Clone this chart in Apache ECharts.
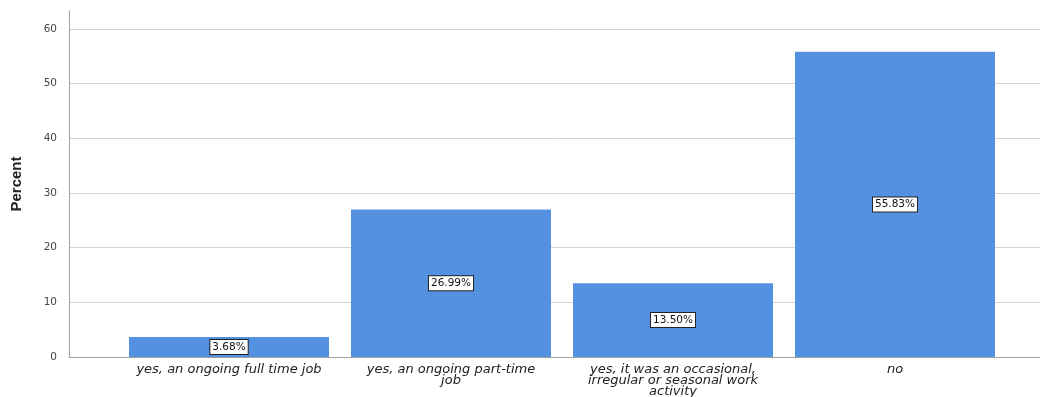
<!DOCTYPE html>
<html><head><meta charset="utf-8">
<script src="https://cdn.jsdelivr.net/npm/echarts@6/dist/echarts.min.js"></script>
<style>html,body{margin:0;padding:0;background:#fff}#c{width:1040px;height:397px}</style>
</head><body><div id="c"></div>
<script>
const categories = [
  "yes, an ongoing full time job",
  "yes, an ongoing part-time\njob",
  "yes, it was an occasional,\nirregular or seasonal work\nactivity",
  "no"
];
const percents = [3.68, 26.99, 13.50, 55.83];
const yTicks = { min: 0, max: 63.3, interval: 10 };
const yName = "Percent";

const chart = echarts.init(document.getElementById('c'), null, {renderer: 'canvas'});
chart.setOption({
  animation: false,
  backgroundColor: '#fff',
  grid: [
    {left: 69, right: 0, top: 11, bottom: 40, outerBoundsMode: 'none', containLabel: false},
    {left: 118, right: 34, top: 11, bottom: 40, outerBoundsMode: 'none', containLabel: false}
  ],
  xAxis: [
    {gridIndex: 0, type: 'category', data: [''], axisLine: {show: true, lineStyle: {color: '#a0a0a0', width: 1}},
     axisTick: {show: false}, axisLabel: {show: false}, splitLine: {show: false}},
    {gridIndex: 1, type: 'category', data: categories,
     axisLine: {show: false}, axisTick: {show: false},
     axisLabel: {interval: 0, fontFamily: 'DejaVu Sans', fontStyle: 'italic', fontSize: 13, color: '#222',
                 lineHeight: 11, margin: 7, align: 'center'}}
  ],
  yAxis: [
    {gridIndex: 0, type: 'value', min: yTicks.min, max: yTicks.max, interval: yTicks.interval,
     name: yName, nameLocation: 'middle', nameGap: 45, nameRotate: 90,
     nameTextStyle: {fontFamily: 'Liberation Sans', fontSize: 15, fontWeight: 'bold', color: '#222'},
     axisLine: {show: true, lineStyle: {color: '#a0a0a0', width: 1}},
     axisTick: {show: false},
     axisLabel: {fontFamily: 'DejaVu Sans', fontSize: 10.5, color: '#444', margin: 12, showMaxLabel: false},
     splitLine: {show: true, showMaxLine: false, lineStyle: {color: '#d4d4d4', width: 1}}},
    {gridIndex: 1, type: 'value', min: yTicks.min, max: yTicks.max, interval: yTicks.interval,
     show: false, splitLine: {show: false}}
  ],
  series: [{
    type: 'bar', xAxisIndex: 1, yAxisIndex: 1,
    data: percents, barWidth: 200,
    itemStyle: {color: '#5591e1'},
    label: {show: true, position: 'inside',
      formatter: p => p.value.toFixed(2) + '%',
      fontFamily: 'DejaVu Sans', fontSize: 10.5, color: '#111',
      backgroundColor: '#fff', borderColor: '#222', borderWidth: 1, padding: [2, 2, 1, 2]}
  }]
});
</script></body></html>
